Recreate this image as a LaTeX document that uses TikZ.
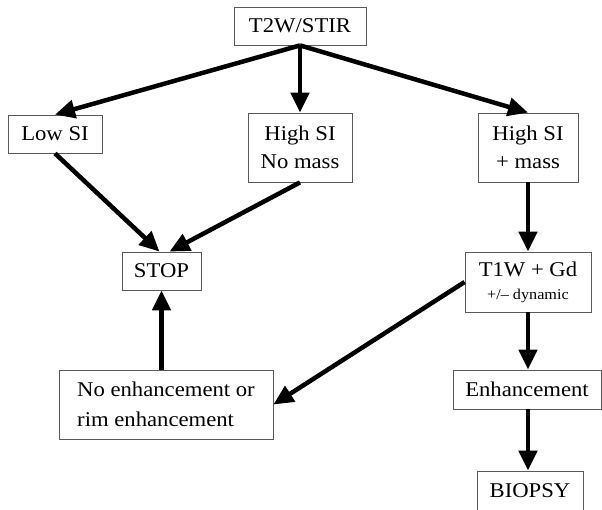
\documentclass[tikz,border=0pt]{standalone}
\usepackage{fontspec}
\setmainfont{Liberation Serif}[FakeStretch=1.08]
\usetikzlibrary{arrows.meta}
\begin{document}
\begin{tikzpicture}[x=1pt,y=-1pt,
  box/.style={draw=black!65, line width=0.8pt, fill=white, inner sep=0pt,
    font=\fontsize{21}{28}\selectfont, align=center},
  arr/.style={line width=4.5pt, -{Triangle[length=20pt,width=18pt]}}]
\useasboundingbox (0,0) rectangle (602,509);
\clip (0,0) rectangle (602,509);
\node[box, minimum width=132pt, minimum height=38pt] (t2w) at (300,26) {T2W/STIR};
\node[box, minimum width=94pt, minimum height=38pt] (low) at (55,134) {Low SI};
\node[box, minimum width=104pt, minimum height=69pt] (nm) at (300,147.5) {High SI\\No mass};
\node[box, minimum width=100pt, minimum height=69pt] (hm) at (528,147.5) {High SI\\+ mass};
\node[box, minimum width=79pt, minimum height=38pt] (stop) at (161.5,271) {STOP};
\node[box, minimum width=126pt, minimum height=60pt] (t1w) at (528,282) {T1W + Gd\\[-5pt]{\fontsize{15}{18}\selectfont +/– dynamic}};
\node[box, minimum width=214pt, minimum height=69pt, align=left, font=\fontsize{21}{30}\selectfont] (noenh) at (166,404.5) {No enhancement or\\rim enhancement};
\node[box, minimum width=148pt, minimum height=39pt] (enh) at (527,389.5) {Enhancement};
\node[box, minimum width=106pt, minimum height=40pt] (bio) at (530,491) {BIOPSY};
\draw[arr] (t2w.south) -- (low.north);
\draw[arr] (t2w.south) -- (nm.north);
\draw[arr] (t2w.south) -- (hm.north);
\draw[arr] (low.south) -- ([xshift=-2pt]stop.north);
\draw[arr] (nm.south) -- ([xshift=8pt]stop.north);
\draw[arr] (hm.south) -- (hm.south |- t1w.north);
\draw[arr] (t1w.west) -- (noenh.east);
\draw[arr] (stop.south |- noenh.north) -- (stop.south);
\draw[arr] (t1w.south) -- (t1w.south |- enh.north);
\draw[arr] (t1w.south |- enh.south) -- (t1w.south |- bio.north);
\end{tikzpicture}
\end{document}
